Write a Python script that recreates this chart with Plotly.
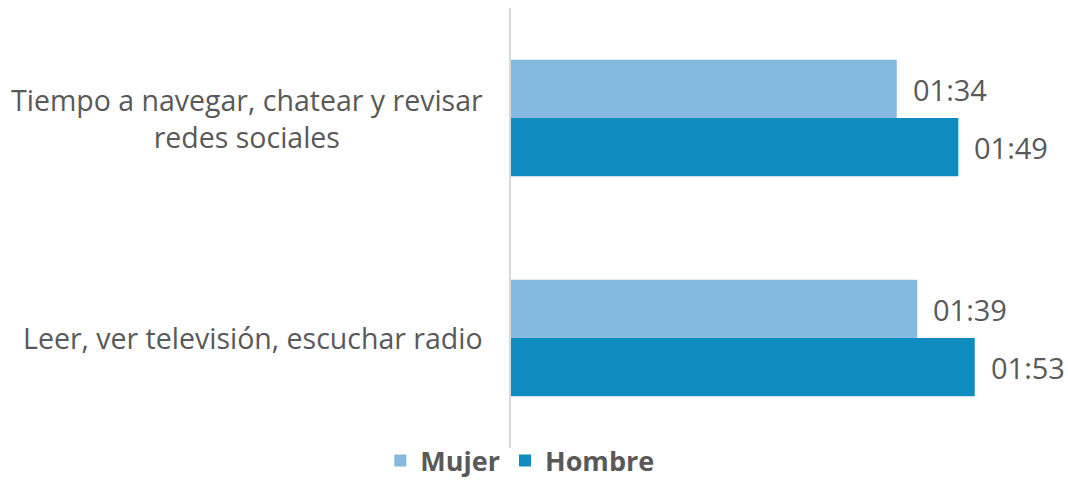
import plotly.graph_objects as go

# Average daily time (minutes) by activity and sex
categories = ["Tiempo a navegar, chatear y revisar<br>redes sociales",
              "Leer, ver televisión, escuchar radio"]
mujer_min = [94, 99]
hombre_min = [109, 113]
series_names = ["Mujer", "Hombre"]
colors = ["#85B9E0", "#0E8BBF"]

FONT = "Open Sans"
GREY = "#595959"
H = 481


def hhmm(m):
    return f"{m // 60:02d}:{m % 60:02d}"


fig = go.Figure()
for name, vals, col in zip(series_names, [mujer_min, hombre_min], colors):
    fig.add_trace(go.Bar(
        y=categories, x=vals, name=name, orientation="h",
        marker=dict(color=col, line=dict(width=0)),
        hoverinfo="skip",
    ))

# value labels after each bar
for idx, vals in enumerate([mujer_min, hombre_min]):
    for cat, v in zip(categories, vals):
        fig.add_annotation(
            x=v, y=cat, xref="x", yref="y",
            text=hhmm(v), showarrow=False,
            xanchor="left", xshift=14,
            yshift=29 if idx == 0 else -29,
            font=dict(family=FONT, size=29, color=GREY),
        )

# category labels, centred lines
for cat in categories:
    fig.add_annotation(
        x=0, y=cat, xref="paper", yref="y",
        text=cat, showarrow=False, align="center",
        xanchor="right", xshift=-26,
        font=dict(family=FONT, size=28.5, color=GREY),
    )

plot_h = H - 8  # paper area height (top margin 8, bottom 0)
fig.update_layout(
    width=1068, height=H,
    margin=dict(l=511, r=5, t=8, b=0, autoexpand=False),
    paper_bgcolor="white", plot_bgcolor="white",
    barmode="group", bargap=0.47, bargroupgap=0,
    showlegend=True,
    legend=dict(orientation="h", x=0.016, xanchor="center",
                y=20 / plot_h, yanchor="middle",
                font=dict(family=FONT, size=27, color=GREY, weight="bold"),
                itemwidth=30, traceorder="normal", bgcolor="rgba(0,0,0,0)"),
    xaxis=dict(range=[0, 134.5], showgrid=False, zeroline=False,
               showticklabels=False, ticks=""),
    yaxis=dict(autorange="reversed", showgrid=False, zeroline=False,
               showticklabels=False, ticks="", domain=[33 / plot_h, 1],
               showline=True, linecolor="#D9D9D9", linewidth=2),
)

fig.write_html("out.html")
